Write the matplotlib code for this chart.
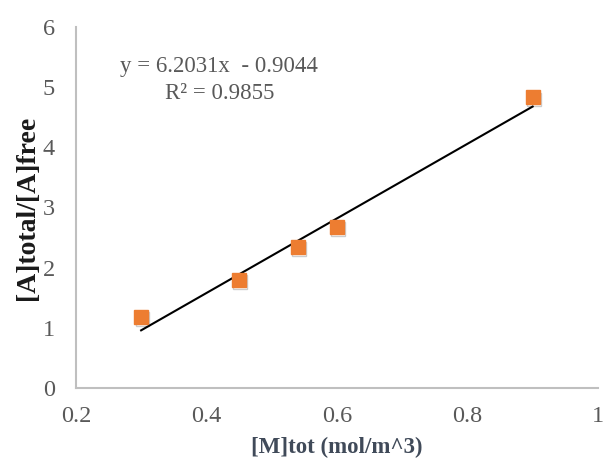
import matplotlib
matplotlib.use("Agg")
import matplotlib.pyplot as plt
import matplotlib.patheffects as pe
import numpy as np

# data
conc = [0.3, 0.45, 0.54, 0.6, 0.9]
ratio = [1.18, 1.79, 2.34, 2.68, 4.83]
slope = 6.2031
intercept = -0.9044
r2 = 0.9855

plt.rcParams['font.family'] = ['Liberation Serif', 'DejaVu Serif']
grey = '#595959'

fig = plt.figure(figsize=(6.07, 4.59), dpi=100)
ax = fig.add_axes([0.125, 0.155, 0.86, 0.786])

xs = np.array([min(conc), max(conc)])
ax.plot(xs, slope * xs + intercept, color='black', lw=1.5, zorder=2)
ax.plot(conc, ratio, linestyle='none', marker='s', markersize=10,
        color='#ED7D31', zorder=3,
        path_effects=[pe.SimpleLineShadow(offset=(1, -1.5), alpha=0.2), pe.Normal()])

ax.text(0.42, 5.34, 'y = 6.2031x  - 0.9044', ha='center', va='center',
        fontsize=16.5, color=grey)
ax.text(0.42, 4.89, 'R² = %.4f' % r2, ha='center', va='center',
        fontsize=16.5, color=grey)

ax.set_xlim(0.2, 1.0)
ax.set_ylim(0, 6)
ax.set_xticks([0.2, 0.4, 0.6, 0.8, 1.0])
ax.set_xticklabels(['0.2', '0.4', '0.6', '0.8', '1'])
ax.set_yticks(range(0, 7))
ax.tick_params(length=0, labelsize=17.5, labelcolor=grey)
ax.tick_params(axis='x', pad=13)
ax.tick_params(axis='y', pad=15)

for s in ['top', 'right']:
    ax.spines[s].set_visible(False)
for s in ['left', 'bottom']:
    ax.spines[s].set_color('#BFBFBF')
    ax.spines[s].set_linewidth(1.5)

ax.set_xlabel('[M]tot (mol/m^3)', fontsize=16.5, fontweight='bold', color='#404a59', labelpad=7)
ax.set_ylabel('[A]total/[A]free', fontsize=20, fontweight='bold', color='#1a1a1a', labelpad=2)

fig.savefig('out.png', dpi=100)
